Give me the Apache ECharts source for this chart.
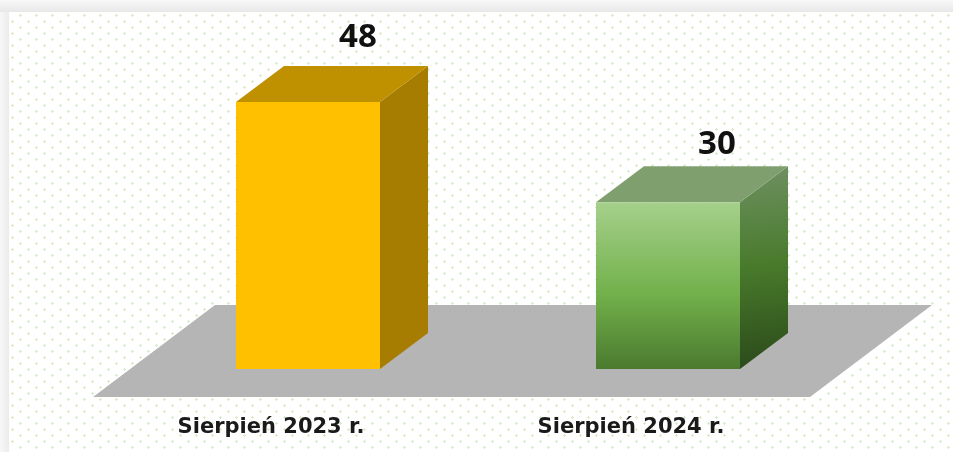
<!DOCTYPE html>
<html>
<head>
<meta charset="utf-8">
<script src="https://cdn.jsdelivr.net/npm/echarts@6/dist/echarts.min.js"></script>
<style>
  html,body{margin:0;padding:0;background:#fff;overflow:hidden;}
  #main{width:953px;height:452px;filter:blur(0.6px);}
</style>
</head>
<body>
<div id="main"></div>
<script>
  var categories = ['Sierpień 2023 r.', 'Sierpień 2024 r.'];
  var values = [48, 30];

  // front, side and top colours of each bar, and where its number sits
  var yellowFaces = {front:'#ffc000', side:'#a67d00', top:'#bf9000', labelDx:50, labelDy:-64};
  var greenFaces = {
    front:{type:'linear',x:0,y:0,x2:0,y2:1,colorStops:[
      {offset:0,color:'#a6d08c'},{offset:0.55,color:'#72b14b'},{offset:1,color:'#4b7a2f'}]},
    side:{type:'linear',x:0,y:0,x2:0.35,y2:1,colorStops:[
      {offset:0,color:'#6f9062'},{offset:0.5,color:'#487a2b'},{offset:1,color:'#2c4a1b'}]},
    top:'#7f9f6e',
    labelDx:49, labelDy:-58
  };
  var faces = [yellowFaces, greenFaces];

  var depthX = 48, depthY = 36;       // depth of a bar
  var floorFront = 28, floorBack = 64, floorShift = 122;

  function dotTile(){
    var c = document.createElement('canvas');
    c.width = 16; c.height = 12;
    var g = c.getContext('2d');
    g.fillStyle = '#ffffff';
    g.fillRect(0,0,16,12);
    g.fillStyle = '#d8ecc8';
    [[4,3],[12,9]].forEach(function(p){
      g.fillRect(p[0]-1,p[1],3,1);
      g.fillRect(p[0],p[1]-1,1,3);
    });
    return c;
  }

  function renderFloor(params, api){
    var cs = params.coordSys;
    var front = cs.y + cs.height + floorFront, back = cs.y + cs.height - floorBack;
    return {
      type:'polygon',
      shape:{points:[
        [cs.x + 2, front],[cs.x + cs.width - 1, front],
        [cs.x + cs.width + floorShift - 1, back],[cs.x + floorShift + 2, back]
      ]},
      style:{fill:'#b5b5b5'}
    };
  }

  function renderBar(params, api){
    var i = api.value(0);
    var v = api.value(1);
    var top = api.coord([i, v]);
    var base = api.coord([i, 0]);
    var w = api.size([1,0])[0]*0.4;
    var l = top[0] + 37 - w/2, r = l + w;
    var f = faces[i];
    return {
      type:'group',
      children:[
        {type:'polygon',shape:{points:[[r,top[1]],[r+depthX,top[1]-depthY],[r+depthX,base[1]-depthY],[r,base[1]]]},style:{fill:f.side}},
        {type:'polygon',shape:{points:[[l,top[1]],[l+depthX,top[1]-depthY],[r+depthX,top[1]-depthY],[r,top[1]]]},style:{fill:f.top}},
        {type:'rect',shape:{x:l,y:top[1],width:w,height:base[1]-top[1]},style:{fill:f.front}},
        {type:'text',x:l+w/2+f.labelDx,y:top[1]+f.labelDy,style:{
          text:String(v),fill:'#111',font:'bold 33px "Noto Sans"',align:'center',verticalAlign:'middle'}}
      ]
    };
  }

  var myChart = echarts.init(document.getElementById('main'));
  myChart.setOption({
    animation:false,
    backgroundColor:{image:dotTile(),repeat:'repeat'},
    grid:{left:91,right:142,top:102,bottom:83},
    xAxis:{
      type:'category',
      data:categories,
      axisLine:{show:false},
      axisTick:{show:false},
      axisLabel:{margin:48,color:'#1a1a1a',fontFamily:'DejaVu Sans',fontWeight:'bold',fontSize:21}
    },
    yAxis:{type:'value',min:0,max:48,show:false,splitLine:{show:false}},
    graphic:[
      {type:'rect',shape:{x:0,y:0,width:953,height:12},z:-1,silent:true,style:{fill:{type:'linear',x:0,y:0,x2:0,y2:1,colorStops:[{offset:0,color:'#f8f8f8'},{offset:1,color:'#e8e8e8'}]}}},
      {type:'rect',shape:{x:0,y:12,width:9,height:440},z:-1,silent:true,style:{fill:{type:'linear',x:0,y:0,x2:1,y2:0,colorStops:[{offset:0,color:'#f8f8f8'},{offset:1,color:'#ebebeb'}]}}}
    ],
    series:[
      {type:'custom',coordinateSystem:'cartesian2d',renderItem:renderFloor,data:[[0,0]],silent:true,z:1},
      {type:'custom',coordinateSystem:'cartesian2d',renderItem:renderBar,
        data:values.map(function(v,i){return [i,v];}),silent:true,z:2,clip:false}
    ]
  });
</script>
</body>
</html>
